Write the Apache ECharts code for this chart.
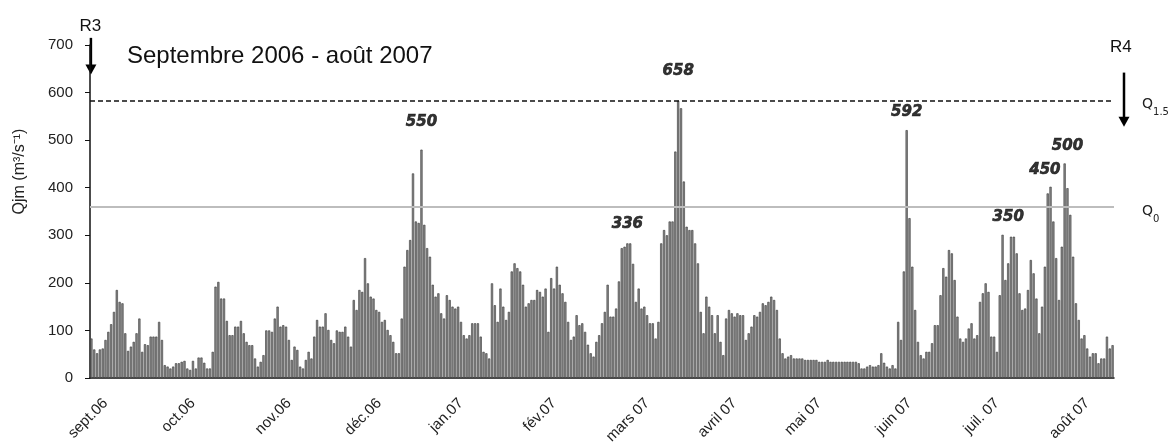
<!DOCTYPE html>
<html>
<head>
<meta charset="utf-8">
<script src="https://cdn.jsdelivr.net/npm/echarts@6/dist/echarts.min.js"></script>
<style>
  html, body { margin: 0; padding: 0; background: #fff; }
  #chart { width: 1171px; height: 444px; }
</style>
</head>
<body>
<div id="chart"></div>
<script>
// Daily mean discharge Qjm (m3/s), one bar per day, in blocks of about two months
const flowSepOct = [83, 60, 52, 60, 62, 80, 97, 113, 139, 185, 160, 157, 94, 57, 66, 76, 94, 125, 55, 71,
  69, 87, 87, 87, 118, 80, 27, 24, 20, 24, 31, 31, 34, 36, 20, 17, 36, 20, 43, 43,
  32, 20, 20, 55, 192, 202, 167, 167, 120, 90, 90, 108, 108, 120, 94, 76, 69, 69, 41, 24];
const flowOctDec = [34, 48, 100, 100, 97, 125, 150, 108, 111, 108, 80, 38, 66, 59, 24, 20, 38, 55, 41, 87,
  122, 108, 108, 136, 101, 80, 73, 100, 97, 97, 108, 87, 66, 164, 143, 185, 181, 252, 199, 171,
  167, 143, 139, 118, 122, 101, 90, 76, 52, 52, 125, 234, 269, 290, 430, 329, 326, 480, 322, 273, 255];
const flowDecFeb = [196, 171, 178, 136, 125, 174, 164, 150, 146, 150, 118, 90, 83, 90, 115, 115, 115, 87, 55, 52,
  41, 199, 153, 118, 188, 150, 122, 139, 224, 241, 231, 224, 196, 150, 157, 164, 164, 185, 181, 171,
  188, 97, 210, 188, 234, 196, 178, 160, 118, 80, 87, 132, 111, 115, 97, 70, 52, 45];
const flowFebApr = [76, 90, 115, 139, 196, 129, 129, 146, 203, 273, 276, 283, 283, 240, 160, 188, 146, 150, 132, 115,
  115, 83, 118, 283, 311, 300, 329, 329, 476, 583, 567, 413, 318, 311, 311, 283, 241, 139, 94, 171,
  150, 132, 94, 132, 76, 48, 125, 143, 136, 129, 136, 132, 132, 80, 94, 108, 132, 129, 139, 157,
  153, 160, 171, 164, 143];
const flowAprJun = [83, 52, 41, 45, 48, 41, 41, 41, 41, 38, 38, 38, 38, 38, 34, 34, 34, 38, 34, 34,
  34, 34, 34, 34, 34, 34, 34, 34, 31, 20, 20, 24, 27, 24, 24, 27, 52, 32, 24, 20,
  27, 20, 118, 80, 224, 521, 336, 234, 143, 76, 48, 41, 55, 55, 73, 111];
const flowJunAug = [111, 174, 231, 213, 269, 262, 206, 129, 83, 76, 83, 104, 115, 83, 90, 160, 178, 199, 181, 87,
  87, 55, 174, 301, 206, 241, 297, 297, 262, 178, 143, 146, 185, 248, 220, 167, 94, 150, 234, 388,
  402, 329, 252, 164, 276, 451, 399, 343, 255, 157, 122, 83, 90, 62, 45, 52, 52, 31, 41, 41,
  87, 62, 69];

const dailyFlow = [].concat(flowSepOct, flowOctDec, flowDecFeb, flowFebApr, flowAprJun, flowJunAug);
const dayIndex = dailyFlow.map((_, i) => i);

// Month tick labels and the day on which each one is written
const monthLabels = ['sept.06', 'oct.06', 'nov.06', 'déc.06', 'jan.07', 'fév.07',
  'mars 07', 'avril 07', 'mai 07', 'juin 07', 'juil. 07', 'août 07'];
const monthLabelDays = [5, 36, 70, 102, 131, 164, 197, 228, 258, 290, 321, 353];

// Flood peaks (m3/s) written above the main events
const peakDays = [117, 190, 208, 289, 325, 338, 346];
const peakValues = [550, 336, 658, 592, 350, 450, 500];

// Reference discharges
const Q15 = 583;  // Q1.5
const Q0 = 360;   // Q0

const yTicks = [0, 100, 200, 300, 400, 500, 600, 700];

const GRID = { left: 90, right: 57, top: 45, bottom: 66 };
const W = 1171, H = 444;

const chart = echarts.init(document.getElementById('chart'), null, { renderer: 'canvas' });

const sansFont = '"Liberation Sans", Arial, sans-serif';
const labelFont = '"DejaVu Sans", Verdana, sans-serif';

const peakData = peakDays.map((d, i) => {
  const v = peakValues[i];
  const item = { value: [d, v] };
  // a peak sitting just above the Q1.5 line gets its number written below the point
  if (v > Q15 && v - Q15 < 30) {
    item.label = { position: 'bottom', distance: 8 };
  }
  return item;
});

const qLabel = (sub) => '{q|Q}{s|' + sub + '}';
const qRich = {
  q: { fontSize: 14, fontFamily: labelFont, color: '#222', lineHeight: 20, verticalAlign: 'top' },
  s: { fontSize: 10, fontFamily: labelFont, color: '#222', lineHeight: 10, verticalAlign: 'bottom' }
};

chart.setOption({
  animation: false,
  backgroundColor: '#fff',
  title: {
    text: 'Septembre 2006 - août 2007',
    left: 122,
    top: 39,
    textStyle: { fontFamily: sansFont, fontSize: 24, fontWeight: 'normal', color: '#111' }
  },
  grid: {
    left: GRID.left, right: GRID.right, top: GRID.top, bottom: GRID.bottom,
    outerBoundsMode: 'none', containLabel: false
  },
  xAxis: {
    type: 'category',
    data: dayIndex,
    boundaryGap: true,
    axisLine: { show: true, lineStyle: { color: '#111', width: 1.5 } },
    axisTick: { show: false },
    splitLine: { show: false },
    axisLabel: {
      interval: (idx) => monthLabelDays.indexOf(idx) >= 0,
      formatter: (val, idx) => monthLabels[monthLabelDays.indexOf(Number(val))] || '',
      rotate: 45,
      margin: 23,
      fontSize: 15,
      fontFamily: sansFont,
      color: '#222'
    }
  },
  yAxis: {
    type: 'value',
    min: 0,
    max: 700,
    interval: 100,
    name: 'Qjm (m³/s⁻¹)',
    nameLocation: 'middle',
    nameGap: 62,
    nameTextStyle: { fontFamily: sansFont, fontSize: 16, color: '#222', padding: [0, 0, 0, 80] },
    axisLine: { show: true, lineStyle: { color: '#111', width: 1.5 } },
    axisTick: { show: true, inside: false, length: 5, lineStyle: { color: '#111', width: 1 } },
    splitLine: { show: false },
    axisLabel: {
      margin: 17,
      fontSize: 15,
      fontFamily: sansFont,
      color: '#222',
      formatter: (v) => (yTicks.indexOf(v) >= 0 ? String(v) : '')
    }
  },
  series: [
    {
      name: 'Qjm',
      type: 'bar',
      data: dailyFlow,
      barCategoryGap: '22%',
      itemStyle: { color: '#8a8a8a', borderColor: '#363636', borderWidth: 0.6 },
      silent: true,
      markLine: {
        silent: true,
        symbol: ['none', 'none'],
        animation: false,
        data: [
          {
            yAxis: Q15,
            lineStyle: { color: '#111', type: [5, 3], width: 1.5 },
            label: { show: true, position: 'end', distance: 28, padding: [14, 0, 0, 0], formatter: qLabel('1.5'), rich: qRich }
          },
          {
            yAxis: Q0,
            lineStyle: { color: '#bdbdbd', type: 'solid', width: 2 },
            label: { show: true, position: 'end', distance: 28, padding: [16, 0, 0, 0], formatter: qLabel('0'), rich: qRich }
          }
        ]
      }
    },
    {
      name: 'Qmax',
      type: 'scatter',
      data: peakData,
      symbol: 'circle',
      symbolSize: 1,
      itemStyle: { color: 'transparent' },
      silent: true,
      z: 5,
      label: {
        show: true,
        position: 'top',
        distance: -14,
        formatter: (p) => String(p.value[1]),
        fontFamily: labelFont,
        fontSize: 15,
        fontWeight: 'bold',
        fontStyle: 'italic',
        color: '#000',
        textBorderColor: '#000',
        textBorderWidth: 0.6
      }
    }
  ]
});

// Station markers R3 (start) and R4 (end), each with a downward arrow
function arrow(x, yTop, yTip) {
  return {
    type: 'group',
    silent: true,
    children: [
      { type: 'line', shape: { x1: x, y1: yTop, x2: x, y2: yTip - 6 }, style: { stroke: '#000', lineWidth: 2.5 } },
      { type: 'polygon', shape: { points: [[x - 5.5, yTip - 10], [x + 5.5, yTip - 10], [x, yTip]] }, style: { fill: '#000' } }
    ]
  };
}

const startPx = chart.convertToPixel({ xAxisIndex: 0, yAxisIndex: 0 }, [0, 715]);
const startTip = chart.convertToPixel({ yAxisIndex: 0 }, 638);
const endX = W - GRID.right + 10;
const endTop = chart.convertToPixel({ yAxisIndex: 0 }, 642);
const endTip = chart.convertToPixel({ yAxisIndex: 0 }, 528);

chart.setOption({
  graphic: [
    arrow(startPx[0] - 0.5, startPx[1], startTip),
    { type: 'text', left: startPx[0] - 12, top: startPx[1] - 20, silent: true,
      style: { text: 'R3', font: '17px "Liberation Sans", Arial, sans-serif', fill: '#111' } },
    arrow(endX, endTop, endTip),
    { type: 'text', left: endX - 14, top: endTop - 34, silent: true,
      style: { text: 'R4', font: '17px "Liberation Sans", Arial, sans-serif', fill: '#111' } }
  ]
});
</script>
</body>
</html>
